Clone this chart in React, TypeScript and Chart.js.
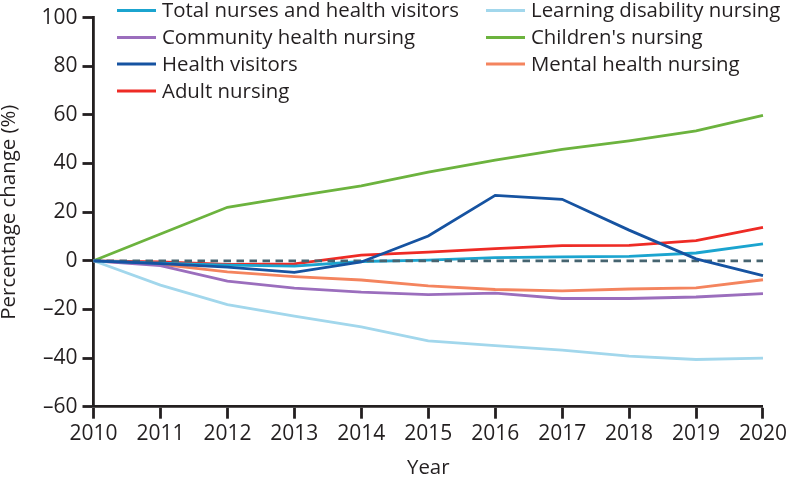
import React, { useEffect, useRef } from "react";
import { Chart, registerables } from "chart.js";

Chart.register(...registerables);

const years = ["2010", "2011", "2012", "2013", "2014", "2015", "2016", "2017", "2018", "2019", "2020"];
const totalNurses = [0, -1, -1.8, -2.2, -0.3, 0.3, 1.3, 1.6, 1.8, 3.2, 7];
const learningDisability = [0, -10, -18, -22.8, -27.2, -32.9, -34.9, -36.7, -39.2, -40.6, -40];
const communityHealth = [0, -2, -8.4, -11.2, -12.9, -13.9, -13.3, -15.5, -15.5, -14.9, -13.5];
const childrens = [0, 11, 22, 26.5, 30.8, 36.5, 41.4, 45.8, 49.3, 53.4, 59.8];
const healthVisitors = [0, -1.2, -2.6, -4.8, -0.5, 10.2, 26.9, 25.3, 12.6, 0.8, -6.1];
const mentalHealth = [0, -1.5, -4.6, -6.5, -7.9, -10.3, -11.8, -12.4, -11.6, -11.1, -7.8];
const adultNursing = [0, -0.5, -1.5, -1.3, 2.3, 3.6, 5, 6.2, 6.3, 8.3, 13.7];
const baseline = [0, 0, 0, 0, 0, 0, 0, 0, 0, 0, 0];
const yTicks = [100, 80, 60, 40, 20, 0, -20, -40, -60];

const FONT = "'Open Sans', 'Noto Sans', sans-serif";
const INK = "#231f20";

const series = [
  { label: "Total nurses and health visitors", data: totalNurses, color: "#1ba4cf", col: 0, row: 0 },
  { label: "Learning disability nursing", data: learningDisability, color: "#a2d7ec", col: 1, row: 0 },
  { label: "Community health nursing", data: communityHealth, color: "#9b6ebd", col: 0, row: 1 },
  { label: "Children's nursing", data: childrens, color: "#6cb33e", col: 1, row: 1 },
  { label: "Health visitors", data: healthVisitors, color: "#1653a1", col: 0, row: 2 },
  { label: "Mental health nursing", data: mentalHealth, color: "#f4845e", col: 1, row: 2 },
  { label: "Adult nursing", data: adultNursing, color: "#ee2b25", col: 0, row: 3 },
];

const legendPlugin = {
  id: "customLegend",
  afterDraw(chart: any) {
    const ctx = chart.ctx;
    ctx.save();
    ctx.font = `20.4px ${FONT}`;
    ctx.textBaseline = "middle";
    ctx.textAlign = "left";
    const colX = [117, 486];
    const rowY = [10.5, 37.5, 64, 91];
    series.forEach((s) => {
      const x = colX[s.col];
      const y = rowY[s.row];
      ctx.strokeStyle = s.color;
      ctx.lineWidth = 3;
      ctx.beginPath();
      ctx.moveTo(x, y);
      ctx.lineTo(x + 39, y);
      ctx.stroke();
      ctx.fillStyle = INK;
      ctx.fillText(s.label, x + 45, y + 1);
    });
    ctx.restore();
  },
};

export default function App() {
  const ref = useRef<HTMLCanvasElement | null>(null);
  useEffect(() => {
    document.body.style.margin = "0";
    const datasets: any[] = series.map((s, i) => ({
      label: s.label,
      data: s.data,
      borderColor: s.color,
      backgroundColor: s.color,
      borderWidth: 2.8,
      pointRadius: 0,
      tension: 0,
      fill: false,
      order: i === 4 ? 0 : i + 2,
    }));
    datasets.push({
      label: "baseline",
      data: baseline,
      borderColor: "#466470",
      borderWidth: 2.8,
      borderDash: [7.5, 5.5],
      pointRadius: 0,
      fill: false,
      order: 1,
    });
    const chart = new Chart(ref.current as HTMLCanvasElement, {
      type: "line",
      data: { labels: years, datasets },
      options: {
        animation: false,
        responsive: false,
        maintainAspectRatio: false,
        layout: { padding: { left: 0, right: 24, top: 9, bottom: 0 } },
        plugins: { legend: { display: false }, tooltip: { enabled: false } },
        scales: {
          x: {
            offset: false,
            grid: { display: true, drawOnChartArea: false, drawTicks: true, tickLength: 12, tickWidth: 2.8, tickColor: INK },
            border: { display: true, color: INK, width: 2.8 },
            ticks: { color: INK, font: { family: FONT, size: 21 }, padding: 3, maxRotation: 0, autoSkip: false },
            title: { display: true, text: "Year", color: INK, font: { family: FONT, size: 20.4 }, padding: { top: 0, bottom: 0 } },
            afterFit(scale: any) { scale.height = 73.3; },
          },
          y: {
            min: -60,
            max: 100,
            afterBuildTicks(scale: any) { scale.ticks = yTicks.map((v) => ({ value: v })); },
            grid: { display: true, drawOnChartArea: false, drawTicks: true, tickLength: 11, tickWidth: 2.8, tickColor: INK },
            border: { display: true, color: INK, width: 2.8 },
            ticks: {
              color: INK,
              font: { family: FONT, size: 21 },
              padding: 5,
              callback: (v: any) => (Number(v) < 0 ? "\u2013" + Math.abs(Number(v)) : String(v)),
            },
            title: { display: true, text: "Percentage change (%)", color: INK, font: { family: FONT, size: 20.4 }, padding: { top: -3, bottom: 0 } },
            afterFit(scale: any) { scale.width = 93.5; },
          },
        },
      },
      plugins: [legendPlugin],
    });
    return () => chart.destroy();
  }, []);
  return (
    <div style={{ position: "absolute", left: 0, top: 0, width: 790, height: 480 }}>
      <canvas ref={ref} width={790} height={480} style={{ width: 790, height: 480 }} />
    </div>
  );
}
